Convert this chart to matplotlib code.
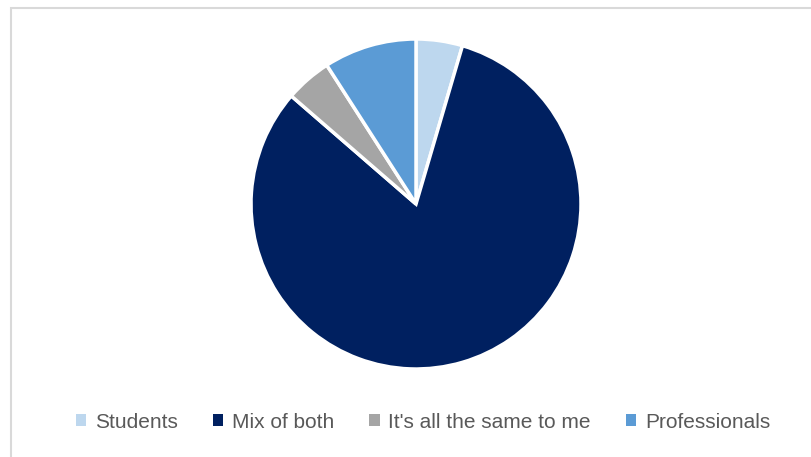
import matplotlib
matplotlib.use("Agg")
import matplotlib.pyplot as plt
from matplotlib.patches import Rectangle

labels = ["Students", "Mix of both", "It's all the same to me", "Professionals"]
values = [1, 18, 1, 2]
colors = ["#bdd7ee", "#002060", "#a5a5a5", "#5b9bd5"]

plt.rcParams['font.family'] = ['Liberation Sans', 'DejaVu Sans']

fig = plt.figure(figsize=(8.12, 4.57), dpi=100)

# chart area border (only top and left visible, the rest is cut off)
fig.patches.append(Rectangle((11 / 812, -0.2), 1.5, 1.2 - 8 / 457,
                             transform=fig.transFigure, fill=False,
                             edgecolor="#d9d9d9", linewidth=1.5))

ax = fig.add_axes([251 / 812, 88 / 457, 330 / 812, 330 / 457])
wedges, _ = ax.pie(values, colors=colors, startangle=90, counterclock=False,
                   radius=1, wedgeprops=dict(edgecolor="white", linewidth=2.5))
ax.set_xlim(-1, 1)
ax.set_ylim(-1, 1)
ax.set_aspect("equal")
ax.axis("off")

leg = fig.legend(wedges, labels, loc="center", bbox_to_anchor=(423 / 812, 1 - 422 / 457),
                 ncol=4, frameon=False, fontsize=15, handlelength=0.5, handleheight=0.5,
                 handletextpad=0.4, columnspacing=1.7, labelcolor="#595959")
for h in leg.legend_handles:
    h.set_linewidth(0)

fig.savefig("out.png", dpi=100)
